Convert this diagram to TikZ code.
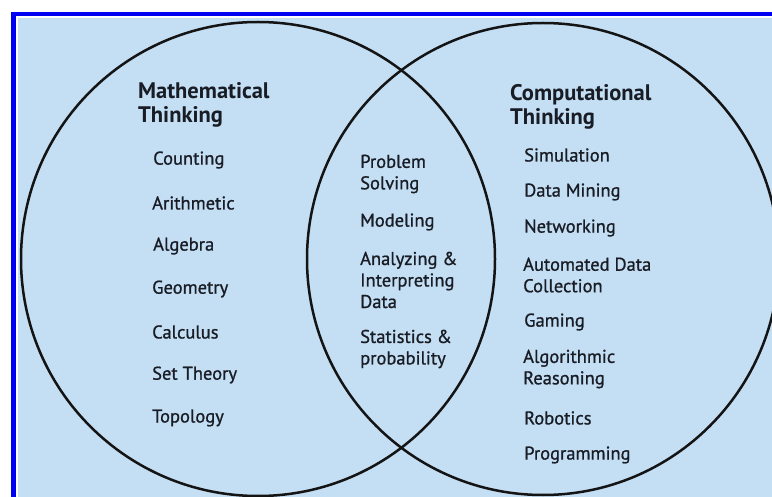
\documentclass[tikz,border=0pt]{standalone}
\usepackage{fontspec}
\setmainfont{PT Sans}
\newfontfamily\itemfont[FakeBold=0.9]{PT Sans}
\definecolor{frameblue}{RGB}{0,0,240}
\definecolor{paleblue}{RGB}{196,222,244}
\definecolor{textdark}{RGB}{24,28,36}
\begin{document}
\begin{tikzpicture}[x=1pt,y=-1pt,
  head/.style={anchor=west, font=\fontsize{22.5}{24.5}\selectfont\bfseries, align=left, inner sep=0pt, text=textdark},
  item/.style={anchor=west, font=\fontsize{18.5}{21.5}\selectfont\itemfont, align=left, inner sep=0pt, text=textdark},
  ring/.style={line width=2.5pt, draw=black!92}]
\useasboundingbox (0,0) rectangle (772,497);
\fill[white] (0,0) rectangle (772,497);
\fill[frameblue] (11,12) rectangle (772,497);
\fill[white] (16,16) rectangle (772,497);
\fill[paleblue] (18,18) rectangle (772,497);
\begin{scope}
\clip (18,18) rectangle (772,497);
\draw[ring] (258,259) circle[radius=237];
\draw[ring] (543,259) circle[radius=236];
\end{scope}
% left
\node[head] (mt) at (138,105) {Mathematical\\Thinking};
\node[item] (l1) at (153,160) {Counting};
\node[item] (l2) at (152,203) {Arithmetic};
\node[item] (l3) at (153,246) {Algebra};
\node[item] (l4) at (152,289) {Geometry};
\node[item] (l5) at (152,332) {Calculus};
\node[item] (l6) at (152,375) {Set Theory};
\node[item] (l7) at (152,418) {Topology};
% middle
\node[item] (m1) at (360,174) {Problem\\Solving};
\node[item] (m2) at (360,222) {Modeling};
\node[item] (m3) at (360,280) {Analyzing \&\\Interpreting\\Data};
\node[item] (m4) at (360,349) {Statistics \&\\probability};
% right
\node[head] (ct) at (510,107) {Computational\\Thinking};
\node[item] (r1) at (524,155) {Simulation};
\node[item] (r2) at (524,192) {Data Mining};
\node[item] (r3) at (524,228) {Networking};
\node[item] (r4) at (523,275) {Automated Data\\Collection};
\node[item] (r5) at (524,322) {Gaming};
\node[item] (r6) at (523,369) {Algorithmic\\Reasoning};
\node[item] (r7) at (524,418) {Robotics};
\node[item] (r8) at (524,455) {Programming};
\end{tikzpicture}
\end{document}
